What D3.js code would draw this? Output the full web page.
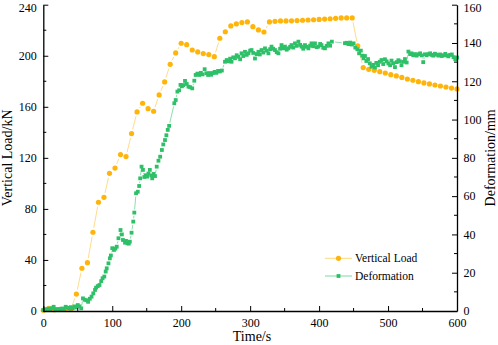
<!DOCTYPE html>
<html>
<head>
<meta charset="utf-8">
<script src="https://cdn.jsdelivr.net/npm/d3@7"></script>
<style>
  html, body { margin: 0; padding: 0; background: #fff; }
  svg { display: block; }
  text { font-family: "Liberation Serif", "DejaVu Serif", serif; fill: #000; }
</style>
</head>
<body>
<svg id="chart" width="498" height="345"></svg>
<script>
// ---------- data ----------
const loadTime = [0,8,16,24,32,40,48,56,64,72,80,88,96,104,112,120,128,136,144,152,160,168,176,184,192,200,
  208,216,224,232,240,248,256,264,272,280,288,296,304,312,320,328,336,344,352,360,368,376,384,392,400,
  408,416,424,432,440,448,456,464,472,480,488,496,504,512,520,528,536,544,552,560,568,576,584,592,600];
const loadValue = [0.5,2.0,1.0,1.2,1.5,1.3,13.3,33.5,37.9,61.7,85.2,89.1,107.9,112.0,122.6,121.0,139.0,156.0,162.8,158.5,
  156.5,169.3,179.5,193.3,202.2,209.8,208.7,204.5,203.0,201.7,200.9,199.3,213.7,218.8,223.4,224.9,226.0,226.5,
  222.8,220.2,218.6,226.5,227.0,227.3,227.3,227.4,227.6,227.8,228.0,228.2,228.5,228.7,229.0,229.3,229.6,229.6,
  229.6,207.7,190.7,189.4,188.6,187.5,186.5,185.2,184.2,183.0,181.8,180.8,179.7,178.7,177.9,177.1,176.3,175.5,174.7,174.0];

const defTime = [0,2.5,5,7.5,10,12.5,15,17.5,20,22.5,25,27.5,30,32.5,35,37.5,40,42.5,45,47.5,50,52.5,55,57.5,60,62.5,65,67.5,
  70,72.5,75,76.5,79,81.5,84,86,88.5,90.5,92,94.5,96.5,98,100,102.5,104.5,106.5,109,112,114,115.5,118.5,120,122,124,125.5,
  128,130.5,132,134.5,137,139,140.5,142.5,144.5,146.5,148.5,150.5,152.5,154.5,156.5,158,160,162,164.5,167,169.5,172,174,
  176.5,178.5,180.5,182.5,190,192,194.5,197,199,201,203,205.5,208,210.5,213,216,219,221,223.5,226,228.5,231,234,236.5,
  239,241,243.5,246,248.5,251,253.5,256,259,263.5,266,268.5,271,273,275.5,278,280.5,283,285.5,287.5,290,292.5,295,297.5,
  300,302,304.5,307,309.5,312,314,316.5,319,321.5,324,326.5,329,331,333.5,336,338.5,341,343.5,345.5,348,350.5,353,355.5,
  358,360,362.5,365,367.5,370,372.5,374.5,377,379.5,382,384.5,387,389,391.5,394,396.5,399,401.5,403.5,406,408.5,411,
  413.5,416,418.5,437.5,440,442.5,445,447.5,450,452.5,455.5,458,460.5,462.5,464.5,466.5,468.5,471,473.5,476,478.5,481,
  483,485.5,488,490.5,493,495.5,498,500.5,503,505,507.5,510,512.5,515,517,519.5,522,524.5,527,529.5,532,534,536.5,539,
  541.5,544,546.5,549,551,553.5,556,558.5,561,563,565.5,568,570.5,573,575.5,578,580.5,583,585,587.5,590,592.5,595,597.5,600];
const defValue = [0.5,0.9,0.7,1.2,0.6,1.5,2.2,1.0,0.7,1.0,0.8,1.3,1.1,2.2,1.7,1.3,2.0,1.4,2.4,1.8,3.1,2.4,1.4,6.6,5.9,5.6,4.8,6.4,
  7.5,9.2,11.0,12.2,13.0,13.6,15.6,17.1,18.0,20.6,22.3,24.9,27.5,29.0,32.8,31.9,32.6,33.6,38.0,42.3,40.0,37.1,35.7,36.6,35.4,35.2,36.2,
  40.9,46.7,51.4,61.5,62.3,65.3,69.3,75.4,73.7,70.0,70.9,70.2,71.8,73.7,70.8,69.3,71.6,70.5,75.4,78.5,80.6,84.1,87.0,
  89.3,91.8,94.6,96.7,108.5,110.2,114.6,115.3,118.1,117.4,118.0,120.2,118.6,117.2,116.9,116.3,120.3,123.3,124.0,123.3,124.4,123.6,126.3,124.2,
  123.3,124.3,123.4,124.3,124.9,124.4,125.4,125.1,125.6,130.2,131.1,130.4,131.8,130.2,132.5,132.0,133.6,132.8,131.5,134.6,133.2,135.4,133.8,134.6,
  136.0,136.3,134.8,131.9,134.2,135.4,134.0,136.3,135.0,137.2,136.0,134.6,136.8,138.1,137.0,136.3,135.2,134.6,137.0,138.9,137.2,138.1,136.5,137.2,
  138.0,138.9,137.6,139.8,138.5,140.7,139.0,138.1,137.0,138.9,138.0,137.2,138.6,139.8,138.3,139.8,137.8,138.1,139.5,138.9,137.5,137.2,138.5,
  139.8,138.6,140.7,139.9,140.1,139.4,140.2,139.2,139.8,137.6,136.7,134.6,136.0,133.4,132.0,133.2,130.6,131.6,129.4,127.6,128.6,127.2,
  129.6,128.4,130.2,131.1,129.0,131.5,130.4,129.3,128.4,130.8,129.4,127.4,130.0,131.0,130.4,128.4,130.2,131.6,129.8,135.5,134.2,134.6,133.6,134.2,
  133.4,134.1,134.6,133.5,130.0,134.1,133.6,134.2,134.6,133.8,133.4,134.4,133.9,133.4,134.0,133.2,133.6,134.3,133.5,133.0,133.8,134.0,132.6,131.5,132.4];

const xTicks = [0,100,200,300,400,500,600];
const leftTicks = [0,40,80,120,160,200,240];
const rightTicks = [0,20,40,60,80,100,120,140,160];
const seriesNames = ["Vertical Load", "Deformation"];
const axisTitles = { x: "Time/s", left: "Vertical Load/kN", right: "Deformation/mm" };

// ---------- layout ----------
const X0 = 43.3, X1 = 457, Y0 = 311, Y1 = 4.7;
const orange = "#FFB40A", green = "#2EC068";
const orangeLine = "#FFCB5A", greenLine = "#5CCF8A";

const svg = d3.select("#chart");
const x = d3.scaleLinear().domain([0, 600]).range([X0, X1]);
const yL = d3.scaleLinear().domain([0, 240]).range([Y0, Y1]);
const yR = d3.scaleLinear().domain([0, 160]).range([Y0, Y1]);

// ---------- gapped connecting lines (Origin style) ----------
function gappedLines(g, pts, gap, color, width) {
  for (let i = 0; i < pts.length - 1; i++) {
    const [ax, ay] = pts[i], [bx, by] = pts[i + 1];
    const dx = bx - ax, dy = by - ay, L = Math.hypot(dx, dy);
    if (L <= 2 * gap) continue;
    const ux = dx / L, uy = dy / L;
    g.append("line")
      .attr("x1", ax + ux * gap).attr("y1", ay + uy * gap)
      .attr("x2", bx - ux * gap).attr("y2", by - uy * gap)
      .attr("stroke", color).attr("stroke-width", width);
  }
}

const loadPts = loadTime.map((t, i) => [x(t), yL(loadValue[i])]);
const defPts = defTime.map((t, i) => [x(t), yR(defValue[i])]);

const gLoad = svg.append("g");
gappedLines(gLoad, loadPts, 4.5, orangeLine, 0.7);
gLoad.selectAll("circle").data(loadPts).join("circle")
  .attr("cx", d => d[0]).attr("cy", d => d[1]).attr("r", 2.6).attr("fill", orange);

const gDef = svg.append("g");
gappedLines(gDef, defPts, 3.2, greenLine, 0.7);
gDef.selectAll("rect").data(defPts).join("rect")
  .attr("x", d => d[0] - 1.9).attr("y", d => d[1] - 1.9).attr("width", 3.8).attr("height", 3.8).attr("fill", green);

// ---------- axes ----------
function styleAxis(g) {
  g.attr("font-family", null);
  g.select(".domain").attr("stroke", "#000").attr("stroke-width", 1.3);
  g.selectAll(".tick line").attr("stroke", "#000").attr("stroke-width", 1);
  g.selectAll(".tick text").style("font-size", "12px").style("font-family", '"Liberation Serif", serif');
}
function minor(g, vals, fn) {
  g.selectAll(null).data(vals).join("line")
    .each(function(v) { fn(d3.select(this), v); })
    .attr("stroke", "#000").attr("stroke-width", 1);
}

const gx = svg.append("g").attr("transform", `translate(0,${Y0})`)
  .call(d3.axisBottom(x).tickValues(xTicks).tickSizeInner(-5).tickSizeOuter(0).tickPadding(7.5).tickFormat(d3.format("d")));
styleAxis(gx);
minor(gx, [50,150,250,350,450,550], (s, v) => s.attr("x1", x(v)).attr("x2", x(v)).attr("y1", 0).attr("y2", -3));

const gl = svg.append("g").attr("transform", `translate(${X0},0)`)
  .call(d3.axisLeft(yL).tickValues(leftTicks).tickSizeInner(-5).tickSizeOuter(0).tickPadding(6.5).tickFormat(d3.format("d")));
styleAxis(gl);
minor(gl, [20,60,100,140,180,220], (s, v) => s.attr("y1", yL(v)).attr("y2", yL(v)).attr("x1", 0).attr("x2", 3));
gl.selectAll(".tick text").filter(d => d === 240).attr("dy", "0.55em");

const gr = svg.append("g").attr("transform", `translate(${X1},0)`)
  .call(d3.axisRight(yR).tickValues(rightTicks).tickSizeInner(-5).tickSizeOuter(0).tickPadding(6.5).tickFormat(d3.format("d")));
styleAxis(gr);
minor(gr, [10,30,50,70,90,110,130,150], (s, v) => s.attr("y1", yR(v)).attr("y2", yR(v)).attr("x1", 0).attr("x2", -3));
gr.selectAll(".tick text").filter(d => d === 160).attr("dy", "0.55em");

// ---------- axis titles ----------
svg.append("text").attr("x", 252).attr("y", 341).attr("text-anchor", "middle")
  .style("font-size", "14px").text(axisTitles.x);
svg.append("text").attr("transform", `translate(11.5,${(Y0 + Y1) / 2}) rotate(-90)`).attr("text-anchor", "middle")
  .style("font-size", "14px").text(axisTitles.left);
svg.append("text").attr("transform", `translate(495,${(Y0 + Y1) / 2}) rotate(-90)`).attr("text-anchor", "middle")
  .style("font-size", "14px").text(axisTitles.right);

// ---------- legend ----------
const leg = svg.append("g");
const legY = [258.3, 276];
[0, 1].forEach(i => {
  const c = i === 0 ? orange : green;
  leg.append("line").attr("x1", 325).attr("x2", 352).attr("y1", legY[i]).attr("y2", legY[i])
    .attr("stroke", i === 0 ? orangeLine : greenLine).attr("stroke-width", 0.8);
  if (i === 0) leg.append("circle").attr("cx", 338.5).attr("cy", legY[i]).attr("r", 2.6).attr("fill", c);
  else leg.append("rect").attr("x", 338.5 - 1.9).attr("y", legY[i] - 1.9).attr("width", 3.8).attr("height", 3.8).attr("fill", c);
  leg.append("text").attr("x", 355).attr("y", legY[i] + 4).style("font-size", "11.5px").text(seriesNames[i]);
});
</script>
</body>
</html>
